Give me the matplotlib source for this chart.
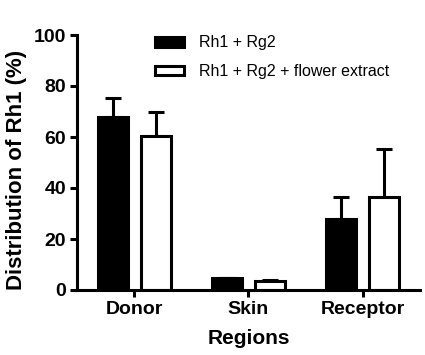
import numpy as np
import matplotlib
matplotlib.use("Agg")
import matplotlib.pyplot as plt
from matplotlib.patches import Patch

plt.rcParams['font.family'] = ['Liberation Sans', 'DejaVu Sans']

# values
regions = ["Donor", "Skin", "Receptor"]
rh1_rg2 = [67.8, 4.6, 27.9]
rh1_rg2_err = [7.5, 0.3, 8.6]
rh1_rg2_flower = [60.4, 3.6, 36.5]
rh1_rg2_flower_err = [9.4, 0.3, 18.8]
y_ticks = [0, 20, 40, 60, 80, 100]

fig = plt.figure(figsize=(4.25, 3.55), dpi=100)
ax = fig.add_axes([77 / 425, 1 - 290 / 355, (420 - 77) / 425, (290 - 35) / 355])

x = np.arange(len(regions))
width = 0.26
offset = 0.188
lw = 2.2

err_kw = dict(fmt="none", ecolor="black", elinewidth=lw, capsize=5.8, capthick=lw, zorder=1)
ax.errorbar(x - offset, rh1_rg2, yerr=[np.zeros(3), rh1_rg2_err], **err_kw)
ax.errorbar(x + offset, rh1_rg2_flower, yerr=[np.zeros(3), rh1_rg2_flower_err], **err_kw)
ax.bar(x - offset, rh1_rg2, width, color="black", edgecolor="black", linewidth=lw, zorder=2)
ax.bar(x + offset, rh1_rg2_flower, width, color="white", edgecolor="black", linewidth=lw, zorder=2)

ax.set_xlim(-0.5, 2.5)
ax.set_ylim(0, 100)
ax.set_yticks(y_ticks)
ax.set_xticks(x)
ax.set_xticklabels(regions)

for s in ["top", "right"]:
    ax.spines[s].set_visible(False)
for s in ["left", "bottom"]:
    ax.spines[s].set_linewidth(lw)

ax.tick_params(axis="both", width=lw, length=5, direction="out", labelsize=14, pad=3)
for lab in ax.get_xticklabels() + ax.get_yticklabels():
    lab.set_fontweight("bold")

ax.set_xlabel("Regions", fontsize=15, fontweight="bold", labelpad=8)
ax.set_ylabel("Distribution of Rh1 (%)", fontsize=16, fontweight="bold")
ax.yaxis.set_label_coords(-0.145, 0.47)

handles = [Patch(facecolor="black", edgecolor="black", linewidth=lw),
           Patch(facecolor="white", edgecolor="black", linewidth=lw)]
fig.legend(handles, ["Rh1 + Rg2", "Rh1 + Rg2 + flower extract"],
           loc="upper left", bbox_to_anchor=(155 / 425, 1 - 35.5 / 355),
           frameon=False, fontsize=11.5, handlelength=1.8, handleheight=0.55,
           handletextpad=0.95, labelspacing=0.85, borderpad=0, borderaxespad=0)

fig.savefig("out.png", dpi=100)
